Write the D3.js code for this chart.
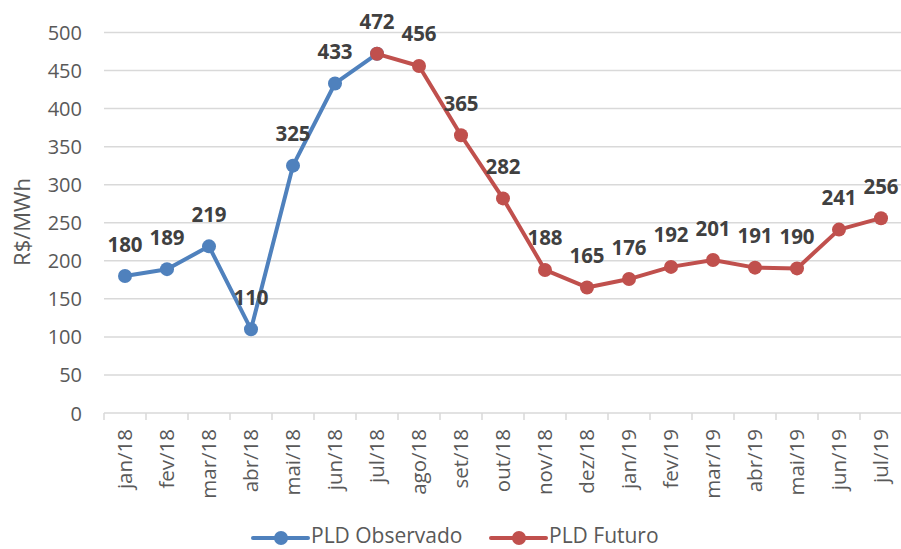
<!DOCTYPE html>
<html lang="pt">
<head>
<meta charset="utf-8">
<title>PLD</title>
<script src="https://cdn.jsdelivr.net/npm/d3@7"></script>
<style>
  body { margin: 0; background: #fff; }
  svg text { font-family: "Open Sans", "Noto Sans", sans-serif; }
  .tick text { fill: #595959; font-size: 20px; }
  .xl { fill: #595959; font-size: 20.5px; }
  .lbl { font-size: 20.5px; font-weight: bold; fill: #404040; }
  .leg { font-size: 21px; fill: #595959; }
</style>
</head>
<body>
<script>
// data
var months = ["jan/18","fev/18","mar/18","abr/18","mai/18","jun/18","jul/18","ago/18","set/18",
              "out/18","nov/18","dez/18","jan/19","fev/19","mar/19","abr/19","mai/19","jun/19","jul/19"];
var observado = [180, 189, 219, 110, 325, 433, 472];
var futuro = [472, 456, 365, 282, 188, 165, 176, 192, 201, 191, 190, 241, 256];
var yTicks = [0, 50, 100, 150, 200, 250, 300, 350, 400, 450, 500];

var w = 901, h = 549;
var blue = "#4f81bd", red = "#c0504d";

var svg = d3.select("body").append("svg").attr("width", w).attr("height", h);

var x = d3.scaleBand().domain(months).range([104, 902]).padding(0);
var y = d3.scaleLinear().domain([0, 500]).range([413, 32.5]);

// gridlines
svg.append("g").selectAll("line").data(yTicks.slice(1)).enter().append("line")
  .attr("x1", 104).attr("x2", 902)
  .attr("y1", function (d) { return y(d); }).attr("y2", function (d) { return y(d); })
  .attr("stroke", "#d9d9d9").attr("stroke-width", 1.5);

// y axis
var yAxis = svg.append("g").attr("transform", "translate(104,0)")
  .call(d3.axisLeft(y).tickValues(yTicks).tickSize(0).tickPadding(22));
yAxis.select(".domain").remove();
yAxis.selectAll("text").attr("dy", "0.35em");

// x axis
svg.append("line").attr("x1", 104).attr("x2", 902).attr("y1", y(0)).attr("y2", y(0))
  .attr("stroke", "#d9d9d9").attr("stroke-width", 1.5);
svg.append("g").selectAll("line").data(months).enter().append("line")
  .attr("x1", function (d) { return x(d); }).attr("x2", function (d) { return x(d); })
  .attr("y1", y(0)).attr("y2", y(0) + 7)
  .attr("stroke", "#d9d9d9").attr("stroke-width", 1.5);
svg.append("g").selectAll("text").data(months).enter().append("text")
  .attr("class", "xl")
  .attr("transform", function (d) {
    return "translate(" + (x(d) + x.bandwidth() / 2) + ",429) rotate(-90)";
  })
  .attr("text-anchor", "end").attr("dy", "0.35em")
  .text(function (d) { return d; });

// axis title
svg.append("text")
  .attr("transform", "translate(22,222) rotate(-90)")
  .attr("text-anchor", "middle").attr("dy", "0.35em")
  .style("font-size", "22px").style("fill", "#595959")
  .text("R$/MWh");

// series
var obsPts = observado.map(function (v, i) { return { m: months[i], v: v }; });
var futPts = futuro.map(function (v, i) { return { m: months[i + 6], v: v }; });

var line = d3.line()
  .x(function (d) { return x(d.m) + x.bandwidth() / 2; })
  .y(function (d) { return y(d.v); });

function drawSeries(pts, color) {
  svg.append("path").datum(pts).attr("d", line)
    .attr("fill", "none").attr("stroke", color).attr("stroke-width", 4)
    .attr("stroke-linejoin", "round");
  svg.append("g").selectAll("circle").data(pts).enter().append("circle")
    .attr("cx", function (d) { return x(d.m) + x.bandwidth() / 2; })
    .attr("cy", function (d) { return y(d.v); })
    .attr("r", 7).attr("fill", color);
}
drawSeries(obsPts, blue);
drawSeries(futPts, red);

// labels (jul/18 shared point labelled once)
var labels = obsPts.concat(futPts.slice(1));
svg.append("g").selectAll("text").data(labels).enter().append("text")
  .attr("class", "lbl")
  .attr("x", function (d) { return x(d.m) + x.bandwidth() / 2; })
  .attr("y", function (d) { return y(d.v) - 24.5; })
  .attr("text-anchor", "middle")
  .text(function (d) { return d.v; });

// legend
var legend = [{ name: "PLD Observado", color: blue, x: 253 }, { name: "PLD Futuro", color: red, x: 491 }];
var lg = svg.append("g").selectAll("g").data(legend).enter().append("g")
  .attr("transform", function (d) { return "translate(" + d.x + ",538)"; });
lg.append("line").attr("x1", 0).attr("x2", 55).attr("stroke", function (d) { return d.color; })
  .attr("stroke-width", 4).attr("stroke-linecap", "round");
lg.append("circle").attr("cx", 28).attr("r", 7).attr("fill", function (d) { return d.color; });
lg.append("text").attr("class", "leg").attr("x", 58).attr("y", 5)
  .text(function (d) { return d.name; });
</script>
</body>
</html>
